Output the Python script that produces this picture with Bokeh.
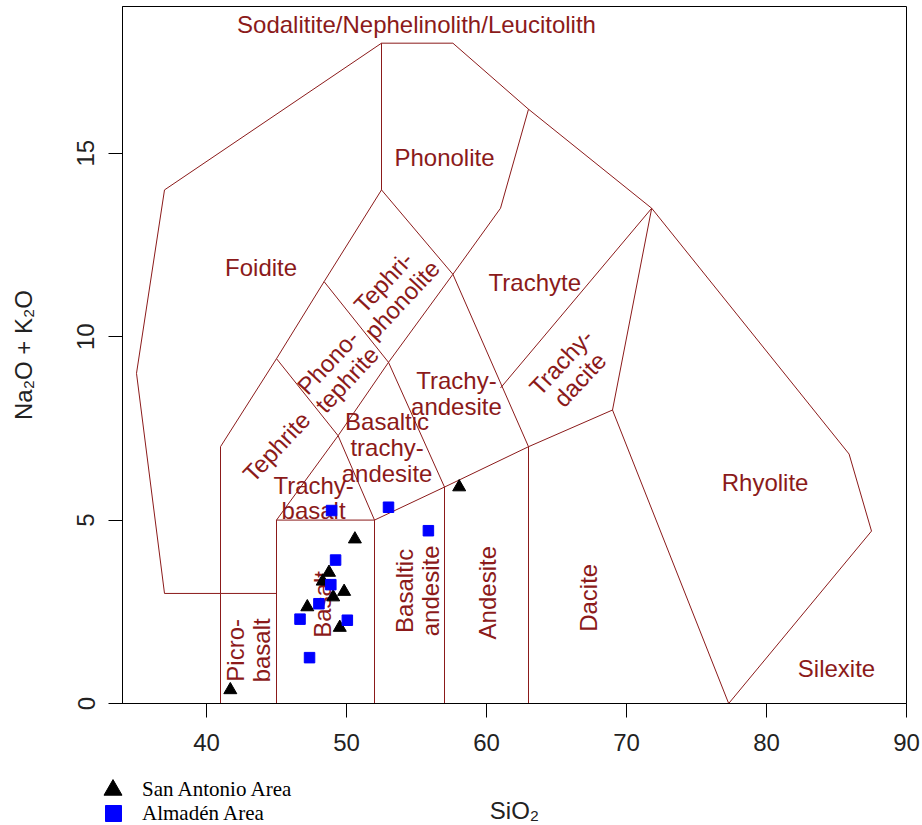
import math
from bokeh.plotting import figure
from bokeh.layouts import column
from bokeh.models import Range1d, FixedTicker, ColumnDataSource, Legend, LegendItem, Label
from bokeh.embed import file_html
from bokeh.resources import INLINE
from bokeh.core.properties import value

# ---- sample data (SiO2 wt%, Na2O+K2O wt%) ----
san_antonio_sio2 = [41.7, 50.6, 58.05, 48.75, 48.3, 49.83, 49.05, 47.2, 49.52]
san_antonio_alk = [0.37, 4.48, 5.9, 3.57, 3.33, 3.05, 2.9, 2.63, 2.07]
almaden_sio2 = [48.93, 53.0, 55.85, 49.22, 48.88, 48.03, 46.68, 50.06, 47.36]
almaden_alk = [5.26, 5.35, 4.71, 3.91, 3.24, 2.72, 2.3, 2.27, 1.25]

# ---- TAS field boundaries (Le Bas et al. 1986) ----
outer_x = [41, 41, 37, 35, 37, 52.5, 57.6, 63, 71.8, 85.9, 87.5, 77.3]
outer_y = [0, 3, 3, 9, 14, 18, 18, 16.2, 13.5, 6.8, 4.7, 0]
line_a_x = [41, 41, 45, 48.4, 52.5, 52.5]
line_a_y = [3, 7, 9.4, 11.5, 14, 18]
line_b_x = [41, 45]
line_b_y = [3, 3]
line_c_x = [45, 45, 49.4, 53, 57.6, 61, 63]
line_c_y = [0, 5, 7.3, 9.3, 11.7, 13.5, 16.2]
line_d_x = [45, 49.4, 52]
line_d_y = [9.4, 7.3, 5]
line_e_x = [48.4, 53, 57]
line_e_y = [11.5, 9.3, 5.9]
line_f_x = [52.5, 57.6, 63]
line_f_y = [14, 11.7, 7]
line_g_x = [61, 71.8, 69]
line_g_y = [8.6, 13.5, 8]
line_h_x = [45, 52, 57, 63, 69, 77.3]
line_h_y = [5, 5, 5.9, 7, 8, 0]
line_i_x = [52, 52]
line_i_y = [0, 5]
line_j_x = [57, 57]
line_j_y = [0, 5.9]
line_k_x = [63, 63]
line_k_y = [0, 7]

# ---- field names ----
field_names = ["Sodalitite/Nephelinolith/Leucitolith", "Phonolite", "Foidite", "Trachyte",
               "Tephri-\nphonolite", "Phono-\ntephrite", "Tephrite", "Trachy-\nandesite",
               "Basaltic\ntrachy-\nandesite", "Trachy-\nbasalt", "Trachy-\ndacite", "Rhyolite",
               "Silexite", "Picro-\nbasalt", "Basalt", "Basaltic\nandesite", "Andesite", "Dacite"]
field_x = [55.0, 57.0, 43.9, 63.45, 53.3, 49.35, 45.0, 57.85, 52.9, 47.65, 66.0, 79.9,
           85.0, 43.0, 48.25, 55.05, 60.1, 67.3]
field_y = [18.5, 14.88, 11.88, 11.47, 11.25, 9.07, 7.0, 8.45, 6.98, 5.6, 9.07, 6.02,
           0.95, 1.45, 2.7, 3.07, 3.02, 2.88]
field_angle_deg = [0, 0, 0, 0, 47, 47, 47, 0, 0, 0, 47, 0, 0, 90, 90, 90, 90, 90]

x_ticks = [40, 50, 60, 70, 80, 90]
y_ticks = [0, 5, 10, 15]
series_names = ["San Antonio Area", "Almadén Area"]
x_title = "SiO₂"
y_title = "Na₂O + K₂O"

DARKRED = "#8B1A1A"
FONT = "Liberation Sans"

p = figure(width=922, height=770, x_range=Range1d(34, 90), y_range=Range1d(0, 19),
           output_backend="svg", toolbar_location=None,
           min_border_left=122, min_border_right=16, min_border_top=6, min_border_bottom=67)
p.frame_align = False
p.xgrid.visible = False
p.ygrid.visible = False
p.outline_line_color = "black"
p.outline_line_width = 1
p.background_fill_color = "white"

p.xaxis.ticker = FixedTicker(ticks=x_ticks)
p.yaxis.ticker = FixedTicker(ticks=y_ticks)
for ax in (p.xaxis, p.yaxis):
    ax.major_tick_in = 0
    ax.major_tick_out = 14
    ax.minor_tick_in = 0
    ax.minor_tick_out = 0
    ax.axis_line_color = "black"
    ax.major_tick_line_color = "black"
    ax.major_label_text_font = FONT
    ax.major_label_text_font_size = "24px"
    ax.major_label_text_color = "#222222"
    ax.axis_label_text_font = FONT
    ax.axis_label_text_font_size = "24px"
    ax.axis_label_text_font_style = "normal"
    ax.axis_label_text_color = "#222222"
p.yaxis.axis_label = y_title
p.xaxis.major_label_standoff = 16
p.yaxis.major_label_standoff = 14
p.yaxis.major_label_orientation = "vertical"
p.yaxis.axis_label_standoff = 38

xs = [outer_x, line_a_x, line_b_x, line_c_x, line_d_x, line_e_x, line_f_x, line_g_x,
      line_h_x, line_i_x, line_j_x, line_k_x]
ys = [outer_y, line_a_y, line_b_y, line_c_y, line_d_y, line_e_y, line_f_y, line_g_y,
      line_h_y, line_i_y, line_j_y, line_k_y]
p.multi_line(xs, ys, line_color=DARKRED, line_width=1)

lab_src = ColumnDataSource(dict(x=field_x, y=field_y, text=field_names,
                                angle=[math.radians(a) for a in field_angle_deg]))
p.text(x="x", y="y", text="text", angle="angle", source=lab_src,
       text_font=value(FONT), text_font_size="24px", text_color=DARKRED,
       text_align="center", text_baseline="middle", text_line_height=0.95)

p.scatter(san_antonio_sio2, san_antonio_alk, marker="triangle", size=13,
          fill_color="black", line_color="black")
p.scatter(almaden_sio2, almaden_alk, marker="square", size=10.5,
          fill_color="#0000FF", line_color="#0000FF")

# ---- bottom strip: x-axis title and legend ----
p2 = figure(width=922, height=55, x_range=Range1d(0, 922), y_range=Range1d(0, 55),
            output_backend="svg", toolbar_location=None, x_axis_type=None, y_axis_type=None,
            min_border=0)
p2.frame_align = False
p2.outline_line_color = None
p2.xgrid.visible = False
p2.ygrid.visible = False
p2.add_layout(Label(x=514, y=15, x_units="screen", y_units="screen", text=x_title,
                    text_font=FONT, text_font_size="24px", text_color="#222222",
                    text_align="center", text_baseline="middle"))
nan = float("nan")
tri_leg = p2.scatter(x=[nan], y=[nan], marker="triangle",
                     fill_color="black", line_color="black")
sq_leg = p2.scatter(x=[nan], y=[nan], marker="square",
                    fill_color="#0000FF", line_color="#0000FF")
leg_style = dict(padding=0, margin=0, border_line_color=None, background_fill_alpha=0,
                 label_text_font="Liberation Serif", label_text_font_size="21px",
                 label_text_color="black")
legend1 = Legend(items=[LegendItem(label=series_names[0], renderers=[tri_leg])],
                 location=(90, 13), glyph_width=45, glyph_height=45, label_standoff=7,
                 **leg_style)
legend2 = Legend(items=[LegendItem(label=series_names[1], renderers=[sq_leg])],
                 location=(93, -8), glyph_width=40, glyph_height=40, label_standoff=9,
                 **leg_style)
p2.add_layout(legend1)
p2.add_layout(legend2)

layout = column(p, p2, spacing=0)
open("out.html", "w").write(file_html(layout, INLINE))
